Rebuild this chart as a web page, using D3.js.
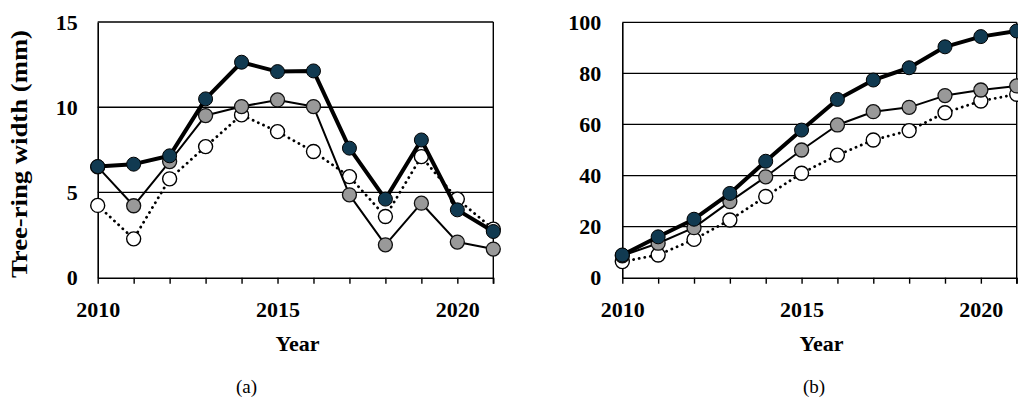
<!DOCTYPE html>
<html>
<head>
<meta charset="utf-8">
<script src="https://cdn.jsdelivr.net/npm/d3@7"></script>
<style>
  html, body { margin: 0; padding: 0; background: #fff; }
  svg { display: block; }
  text { font-family: "Liberation Serif", "Times New Roman", serif; fill: #000; }
</style>
</head>
<body>
<svg id="chart" width="1018" height="399"></svg>
<script>
// Years on the horizontal axis
const years = [2010, 2011, 2012, 2013, 2014, 2015, 2016, 2017, 2018, 2019, 2020, 2021];
const yearLabels = [2010, 2015, 2020];

// (a) annual tree-ring width (mm)
const widthOpen = [4.24, 2.28, 5.8, 7.69, 9.55, 8.57, 7.4, 5.93, 3.59, 7.1, 4.61, 2.85];
const widthGray = [6.5, 4.22, 6.81, 9.51, 10.04, 10.43, 10.04, 4.86, 1.93, 4.37, 2.09, 1.68];
const widthDark = [6.52, 6.66, 7.15, 10.49, 12.64, 12.09, 12.13, 7.6, 4.61, 8.08, 3.98, 2.71];
const ticksA = [0, 5, 10, 15];

// (b) cumulative radial growth
const cumOpen = [6.3, 8.9, 15.0, 22.6, 31.8, 40.9, 48.0, 53.9, 57.6, 64.6, 69.2, 71.8];
const cumGray = [8.6, 13.5, 19.6, 29.8, 39.5, 50.0, 59.8, 65.0, 66.7, 71.3, 73.5, 75.1];
const cumDark = [8.9, 16.0, 22.9, 33.0, 45.6, 57.8, 69.8, 77.4, 82.2, 90.4, 94.4, 96.6];
const ticksB = [0, 20, 40, 60, 80, 100];

const svg = d3.select("#chart");

const styles = {
  open: { line: "#000", width: 2.8, dash: "0.1 5.6", fill: "#fff", mstroke: "#000", mwidth: 1.4 },
  gray: { line: "#000", width: 2, dash: null, fill: "#999999", mstroke: "#111", mwidth: 1.3 },
  dark: { line: "#000", width: 4, dash: null, fill: "#113a51", mstroke: "#000", mwidth: 1 }
};

function panel(opts) {
  const x = d3.scaleLinear().domain([2010, 2021]).range([opts.x0, opts.x1]);
  const y = d3.scaleLinear().domain([0, opts.yMax]).range([opts.yBottom, opts.yTop]);
  const g = svg.append("g");

  // horizontal gridlines (top one doubles as the frame)
  g.selectAll("line.grid")
    .data(opts.ticks.filter(t => t > 0))
    .join("line")
    .attr("x1", opts.x0).attr("x2", opts.x1)
    .attr("y1", d => y(d)).attr("y2", d => y(d))
    .attr("stroke", "#000").attr("stroke-width", 1.3);

  // right frame edge, reaching down to the last tick
  g.append("line")
    .attr("x1", opts.x1).attr("x2", opts.x1)
    .attr("y1", opts.yTop).attr("y2", opts.yBottom + 6)
    .attr("stroke", "#000").attr("stroke-width", 1.4);

  // y axis
  const ya = g.append("g")
    .attr("transform", `translate(${opts.x0},0)`)
    .call(d3.axisLeft(y).tickValues(opts.ticks).tickSize(0).tickPadding(opts.yPad));
  ya.select(".domain").attr("stroke", "#000").attr("stroke-width", 1.6);
  ya.selectAll("text")
    .attr("font-family", "Liberation Serif, serif")
    .attr("font-size", 22).attr("font-weight", "bold").attr("fill", "#000");

  // x axis
  const xa = g.append("g")
    .attr("transform", `translate(0,${opts.yBottom})`)
    .call(d3.axisBottom(x).tickValues(years)
      .tickFormat(d => yearLabels.includes(d) ? d : "")
      .tickSizeInner(6).tickSizeOuter(0).tickPadding(18));
  xa.select(".domain").attr("stroke", "#000").attr("stroke-width", 1.6);
  xa.selectAll(".tick line").attr("stroke", "#000").attr("stroke-width", 1.4);
  xa.selectAll("text")
    .attr("font-family", "Liberation Serif, serif")
    .attr("font-size", 22).attr("font-weight", "bold").attr("fill", "#000");

  // axis title and panel letter
  g.append("text")
    .attr("x", (opts.x0 + opts.x1) / 2 + 2).attr("y", 351)
    .attr("text-anchor", "middle")
    .attr("font-size", 22).attr("font-weight", "bold")
    .text("Year");
  g.append("text")
    .attr("x", opts.letterX).attr("y", 393)
    .attr("text-anchor", "middle")
    .attr("font-size", 19)
    .text(opts.letter);

  // series: line first, then its markers
  const line = d3.line().x((d, i) => x(years[i])).y(d => y(d));
  opts.series.forEach(s => {
    const st = styles[s.key];
    g.append("path")
      .datum(s.values)
      .attr("d", line)
      .attr("fill", "none")
      .attr("stroke", st.line)
      .attr("stroke-width", st.width)
      .attr("stroke-linejoin", "round")
      .attr("stroke-linecap", st.dash ? "round" : "butt")
      .attr("stroke-dasharray", st.dash);
    g.selectAll(null)
      .data(s.values)
      .join("circle")
      .attr("cx", (d, i) => x(years[i]))
      .attr("cy", d => y(d))
      .attr("r", 7)
      .attr("fill", st.fill)
      .attr("stroke", st.mstroke)
      .attr("stroke-width", st.mwidth);
  });
  return g;
}

panel({
  x0: 97.7, x1: 493.3, yTop: 22, yBottom: 277.7, yMax: 15, ticks: ticksA, yPad: 20,
  letter: "(a)", letterX: 246.5,
  series: [
    { key: "open", values: widthOpen },
    { key: "gray", values: widthGray },
    { key: "dark", values: widthDark }
  ]
});

panel({
  x0: 622.3, x1: 1016.7, yTop: 22.3, yBottom: 277.7, yMax: 100, ticks: ticksB, yPad: 21,
  letter: "(b)", letterX: 814,
  series: [
    { key: "open", values: cumOpen },
    { key: "gray", values: cumGray },
    { key: "dark", values: cumDark }
  ]
});

// shared y-axis title on the left panel
svg.append("text")
  .attr("transform", "translate(27,154) rotate(-90)")
  .attr("text-anchor", "middle")
  .attr("font-size", 23)
  .attr("font-weight", "bold")
  .attr("textLength", 248)
  .attr("lengthAdjust", "spacingAndGlyphs")
  .text("Tree-ring width (mm)");
</script>
</body>
</html>
